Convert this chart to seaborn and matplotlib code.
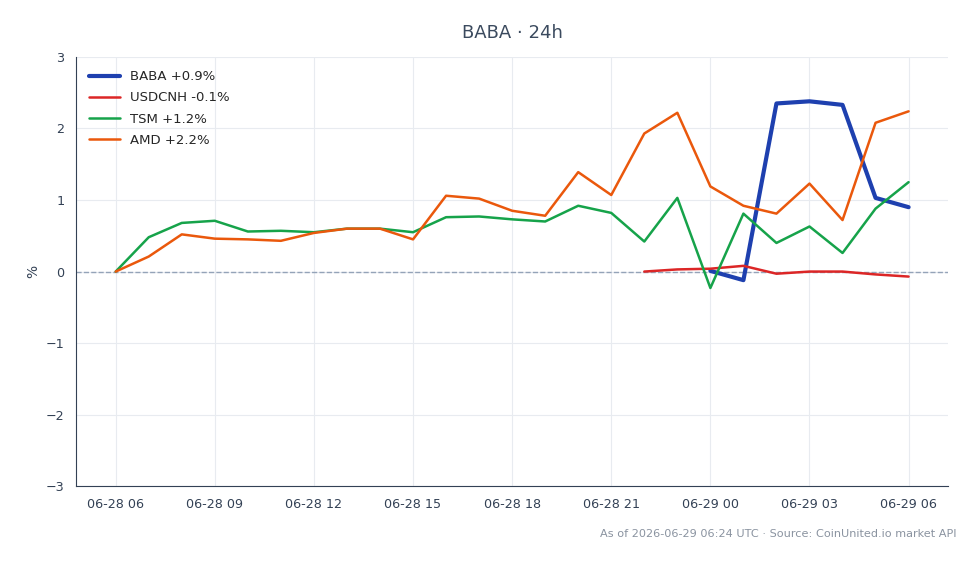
import pandas as pd
import matplotlib.pyplot as plt
import matplotlib.dates as mdates
import seaborn as sns

# hourly % change, 06-28 06:00 -> 06-29 06:00 UTC
hours = pd.date_range("2026-06-28 06:00", "2026-06-29 06:00", freq="h")

tsm = [0.0, 0.48, 0.68, 0.71, 0.56, 0.57, 0.55, 0.60, 0.60, 0.55, 0.76, 0.77, 0.73,
       0.70, 0.92, 0.82, 0.42, 1.03, -0.23, 0.81, 0.40, 0.63, 0.26, 0.88, 1.25]
amd = [0.0, 0.21, 0.52, 0.46, 0.45, 0.43, 0.54, 0.60, 0.60, 0.45, 1.06, 1.02, 0.85,
       0.78, 1.39, 1.07, 1.93, 2.22, 1.19, 0.92, 0.81, 1.23, 0.72, 2.08, 2.24]
usdcnh = [0.0, 0.03, 0.04, 0.08, -0.03, 0.0, 0.0, -0.04, -0.07]   # from 06-28 22
baba = [0.01, -0.12, 2.35, 2.38, 2.33, 1.03, 0.90]                 # from 06-29 00

labels = ["BABA +0.9%", "USDCNH -0.1%", "TSM +1.2%", "AMD +2.2%"]
colors = ["#1e40af", "#dc2626", "#16a34a", "#ea580c"]
widths = [3.0, 1.8, 1.8, 1.8]

frames = [
    pd.DataFrame({"time": hours[-len(baba):], "pct": baba, "name": labels[0]}),
    pd.DataFrame({"time": hours[-len(usdcnh):], "pct": usdcnh, "name": labels[1]}),
    pd.DataFrame({"time": hours, "pct": tsm, "name": labels[2]}),
    pd.DataFrame({"time": hours, "pct": amd, "name": labels[3]}),
]
df = pd.concat(frames, ignore_index=True)

sns.set_style("whitegrid", {"grid.color": "#e8ebf0", "axes.edgecolor": "#334155"})
plt.rcParams["font.family"] = ["DejaVu Sans"]

fig = plt.figure(figsize=(9.8, 5.64), dpi=100)
ax = fig.add_axes([0.0776, 0.138, 0.890, 0.761])

for lab, col, lw in zip(labels, colors, widths):
    sub = df[df["name"] == lab]
    sns.lineplot(data=sub, x="time", y="pct", color=col, linewidth=lw, label=lab, ax=ax)

ax.axhline(0, color="#94a3b8", linestyle="--", linewidth=1, zorder=1)

ax.set_ylim(-3, 3)
ax.set_yticks([-3, -2, -1, 0, 1, 2, 3])
ax.xaxis.set_major_locator(mdates.HourLocator(byhour=[0, 3, 6, 9, 12, 15, 18, 21]))
ax.xaxis.set_major_formatter(mdates.DateFormatter("%m-%d %H"))
ax.tick_params(axis="both", colors="#334155", labelsize=9.2, length=5, direction="out")

ax.set_xlabel("")
ax.set_ylabel("%", color="#334155", fontsize=10)
ax.set_title("BABA · 24h", fontsize=13, color="#3b4a5e", pad=14)

for s in ["top", "right"]:
    ax.spines[s].set_visible(False)
ax.spines["left"].set_color("#334155")
ax.spines["bottom"].set_color("#334155")

ax.legend(loc="upper left", frameon=False, fontsize=9.5, handlelength=2.3,
          labelspacing=0.62, borderaxespad=0.6)

fig.text(0.976, 0.054, "As of 2026-06-29 06:24 UTC · Source: CoinUnited.io market API",
         ha="right", va="center", fontsize=8.1, color="#8a93a0")

fig.savefig("out.png", dpi=100)
